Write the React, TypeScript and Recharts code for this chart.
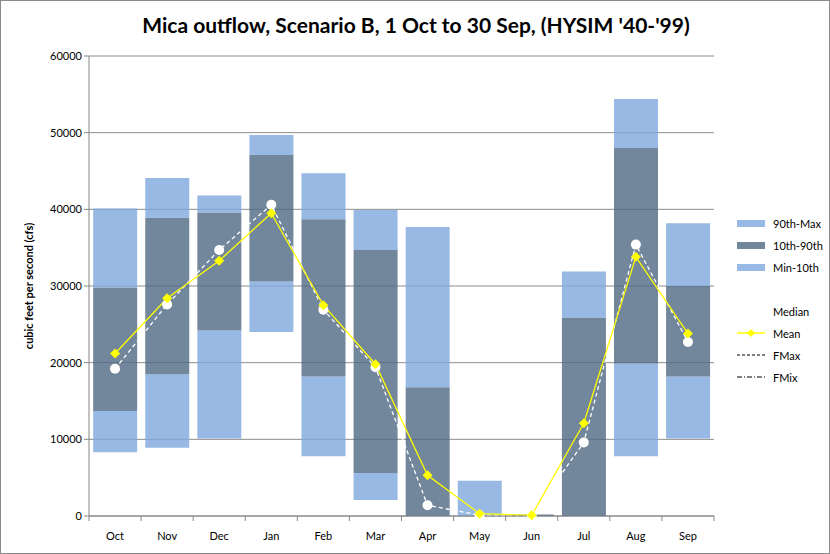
import React from "react";
import { ComposedChart, Bar, Line, XAxis, YAxis, CartesianGrid } from "recharts";

const months = ["Oct", "Nov", "Dec", "Jan", "Feb", "Mar", "Apr", "May", "Jun", "Jul", "Aug", "Sep"];
const minVals = [8300, 8900, 10100, 24000, 7800, 2100, 0, 0, 0, 0, 7800, 10100];
const p10Vals = [13700, 18500, 24200, 30600, 18200, 5600, 0, 0, 0, 0, 19900, 18200];
const p90Vals = [29800, 38900, 39600, 47100, 38700, 34700, 16800, 0, 200, 25900, 48000, 30000];
const maxVals = [40100, 44100, 41800, 49700, 44700, 39900, 37700, 4600, 200, 31900, 54400, 38200];
const meanVals = [21200, 28400, 33300, 39500, 27500, 19800, 5300, 300, 100, 12100, 33800, 23800];
const medianVals = [19200, 27600, 34700, 40600, 26900, 19400, 1400, 100, 0, 9600, 35400, 22700];
const yTicks = [0, 10000, 20000, 30000, 40000, 50000, 60000];

const data = months.map((m, i) => ({
  month: m,
  base: minVals[i],
  low: p10Vals[i] - minVals[i],
  mid: p90Vals[i] - p10Vals[i],
  high: maxVals[i] - p90Vals[i],
  mean: meanVals[i],
  median: medianVals[i],
}));

const LIGHT = "#7ea7dc";
const DARK = "#4f6883";
const FONT = "Lato, 'Open Sans', sans-serif";
const BAND = 625 / 12;

function MonthTick(props: any) {
  const { x, y, payload, index } = props;
  return (
    <g>
      <line x1={x - BAND / 2} x2={x - BAND / 2} y1={y - 8} y2={y - 3} stroke="#868686" />
      {index === months.length - 1 && (
        <line x1={x + BAND / 2} x2={x + BAND / 2} y1={y - 8} y2={y - 3} stroke="#868686" />
      )}
      <text x={x} y={y + 16} textAnchor="middle" fontSize={11} fill="#000" fontFamily={FONT}>
        {payload.value}
      </text>
    </g>
  );
}

function Diamond(props: any) {
  const { cx, cy } = props;
  if (cx == null || cy == null) return null;
  return <path d={`M${cx},${cy - 5}L${cx + 5},${cy}L${cx},${cy + 5}L${cx - 5},${cy}Z`} fill="#ffff00" />;
}

function WhiteDot(props: any) {
  const { cx, cy } = props;
  if (cx == null || cy == null) return null;
  return <circle cx={cx} cy={cy} r={5} fill="#ffffff" />;
}

function LegendBox() {
  const row = (label: string, sym: React.ReactNode) => (
    <div style={{ display: "flex", alignItems: "center", height: 22 }}>
      <svg width={30} height={10} style={{ marginRight: 6 }}>{sym}</svg>
      <span>{label}</span>
    </div>
  );
  return (
    <div style={{ position: "absolute", left: 736, top: 211, fontSize: 11, fontFamily: FONT, color: "#000" }}>
      {row("90th-Max", <rect x={0} y={2} width={28} height={7} fill="#98b9e3" />)}
      {row("10th-90th", <rect x={0} y={2} width={28} height={7} fill="#72869c" />)}
      {row("Min-10th", <rect x={0} y={2} width={28} height={7} fill="#98b9e3" />)}
      <div style={{ height: 22 }} />
      {row("Median", null)}
      {row("Mean", <g><line x1={0} x2={28} y1={5} y2={5} stroke="#ffff00" strokeWidth={1.5} /><path d="M14,1L18,5L14,9L10,5Z" fill="#ffff00" /></g>)}
      {row("FMax", <line x1={0} x2={28} y1={5} y2={5} stroke="#000" strokeDasharray="3 2" />)}
      {row("FMix", <line x1={0} x2={28} y1={5} y2={5} stroke="#000" strokeDasharray="5 2 1 2" />)}
    </div>
  );
}

export default function App() {
  return (
    <div style={{ position: "absolute", left: 0, top: 0, width: 828, height: 552, border: "1px solid #8a8a8a", background: "#fff" }}>
      <div style={{ position: "absolute", left: 0, top: 11, width: 830, textAlign: "center", fontFamily: FONT, fontWeight: "bold", fontSize: 21 }}>
        Mica outflow, Scenario B, 1 Oct to 30 Sep, (HYSIM '40-'99)
      </div>
      <div style={{ position: "absolute", left: 0, top: 0 }}>
        <ComposedChart width={830} height={554} data={data} margin={{ top: 55, right: 117, bottom: 9, left: 28 }} barCategoryGap="8%">
          <CartesianGrid vertical={false} stroke="#8c8c8c" />
          <XAxis dataKey="month" tick={<MonthTick />} tickLine={false} stroke="#868686" height={30} interval={0} />
          <YAxis
            domain={[0, 60000]}
            ticks={yTicks}
            width={60}
            stroke="#868686"
            tickSize={5}
            tick={{ fontSize: 11, fill: "#000", fontFamily: FONT }}
            label={{ value: "cubic feet per second (cfs)", angle: -90, position: "insideLeft", offset: 0, style: { fontSize: 11, fontWeight: "bold", fontFamily: FONT, fill: "#000", textAnchor: "middle" } }}
          />
          <Bar dataKey="base" stackId="s" fill="none" isAnimationActive={false} />
          <Bar dataKey="low" stackId="s" fill={LIGHT} fillOpacity={0.8} isAnimationActive={false} />
          <Bar dataKey="mid" stackId="s" fill={DARK} fillOpacity={0.8} isAnimationActive={false} />
          <Bar dataKey="high" stackId="s" fill={LIGHT} fillOpacity={0.8} isAnimationActive={false} />
          <Line dataKey="median" stroke="#ffffff" strokeWidth={1.3} strokeDasharray="4 3" dot={<WhiteDot />} isAnimationActive={false} />
          <Line dataKey="mean" stroke="#ffff00" strokeWidth={1.3} dot={<Diamond />} isAnimationActive={false} />
        </ComposedChart>
      </div>
      <LegendBox />
    </div>
  );
}
